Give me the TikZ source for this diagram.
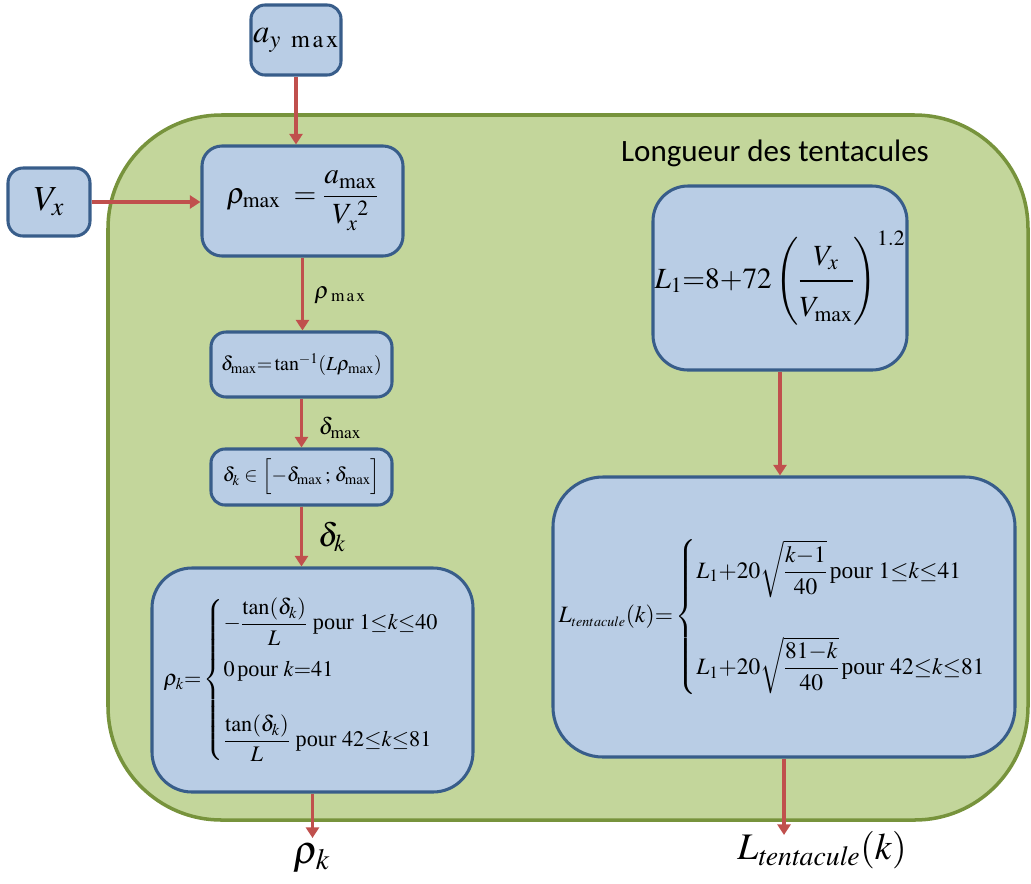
\documentclass[tikz,border=0pt]{standalone}
\usepackage{amsmath}
\usepackage[no-math]{fontspec}
\usepackage{mathptmx}
\setmainfont{Liberation Serif}
\newfontfamily\titlefont{Carlito}
\usetikzlibrary{arrows.meta}
\definecolor{greenfill}{HTML}{C3D69B}
\definecolor{greenline}{HTML}{77933C}
\definecolor{boxfill}{HTML}{B9CDE5}
\definecolor{boxline}{HTML}{385D8A}
\definecolor{arrowred}{HTML}{C0504D}
\tikzset{
  bbox/.style={draw=boxline, fill=boxfill, line width=2.6pt, inner sep=0pt, align=center},
  flow/.style={draw=arrowred, line width=2.6pt, -{Triangle[width=11pt,length=9pt]}},
  lbl/.style={inner sep=0pt}
}
\begin{document}
\begin{tikzpicture}[x=0.03cm,y=-0.03cm]
\useasboundingbox (0,0) rectangle (1031,883);
% container
\draw[draw=greenline, fill=greenfill, line width=3pt, rounded corners=3.4cm] (108,115) rectangle (1028,820);
\node[lbl, font=\titlefont\fontsize{26.5}{30}\selectfont] (title) at (775,153) {Longueur des tentacules};
% boxes
\node[bbox, rounded corners=0.42cm, minimum width=2.7cm, minimum height=2.1cm] (ay) at (296,40)
  {\fontsize{28}{30}\selectfont $a_{y\;\;\mathrm{m\,a\,x}}$};
\node[bbox, rounded corners=0.45cm, minimum width=2.46cm, minimum height=2.04cm] (vx) at (49,202)
  {\fontsize{30}{34}\selectfont $V_x$};
\node[bbox, rounded corners=0.6cm, minimum width=6.03cm, minimum height=3.3cm] (rhomax) at (302.5,201)
  {\fontsize{25}{28}\selectfont $\rho_{\max}\;=\dfrac{a_{\max}}{V_x^{\;2}}$};
\node[bbox, rounded corners=0.45cm, minimum width=5.43cm, minimum height=1.95cm] (dmax) at (301.5,364.5)
  {\fontsize{17}{21}\selectfont $\delta_{\max}{=}\tan^{-1}(L\rho_{\max})$};
\node[bbox, rounded corners=0.42cm, minimum width=5.43cm, minimum height=1.68cm] (dk) at (301.5,477)
  {\fontsize{17}{20}\selectfont $\delta_k \in \Big[{-}\delta_{\max}\,;\,\delta_{\max}\Big]$};
\node[bbox, rounded corners=1.2cm, minimum width=9.63cm, minimum height=6.72cm] (rhok) at (312.5,680)
  {\fontsize{19}{23}\selectfont $\rho_k{=}\begin{cases} {-}\dfrac{\tan(\delta_k)}{L} \text{ pour }1{\le}k{\le}40\\[1.4ex] 0\,\text{pour }k{=}41\\[2.8ex] \dfrac{\tan(\delta_k)}{L}\text{ pour }42{\le}k{\le}81\end{cases}$};
\node[bbox, rounded corners=1.05cm, minimum width=7.62cm, minimum height=5.52cm] (L1) at (780,278)
  {\fontsize{25}{29}\selectfont $L_1{=}8{+}72\left(\dfrac{V_x\rule[-10pt]{0pt}{10pt}}{\rule{0pt}{27pt}V_{\max}}\right)^{1.2}$};
\node[bbox, rounded corners=1.5cm, minimum width=13.86cm, minimum height=8.4cm] (Lt) at (784,617)
  {\fontsize{20}{24}\selectfont $L_{\scriptscriptstyle tentacule}(k){=}\begin{cases} L_1{+}20\sqrt{\dfrac{k{-}1}{40}}\,\text{pour }1{\le}k{\le}41\\[4.5ex] L_1{+}20\sqrt{\dfrac{81{-}k}{40}}\,\text{pour }42{\le}k{\le}81\end{cases}$};
% free ends
\coordinate (o1) at (312.5,838);
\coordinate (o2) at (784,835);
% arrows
\draw[flow] (ay.south) -- (ay.south |- rhomax.north);
\draw[flow] (vx.east) -- (vx.east -| rhomax.west);
\draw[flow] (rhomax.south) -- (rhomax.south |- dmax.north);
\draw[flow] (dmax.south) -- (dmax.south |- dk.north);
\draw[flow] (dk.south) -- (dk.south |- rhok.north);
\draw[flow] (rhok.south) -- (o1);
\draw[flow] (L1.south) -- (L1.south |- Lt.north);
\draw[flow] (Lt.south) -- (o2);
% labels
\node[lbl, font=\fontsize{20}{24}\selectfont] (lrm) at (340,295) {$\rho_{\;\mathrm{m\,a\,x}}$};
\node[lbl, font=\fontsize{20}{24}\selectfont] (ldm) at (340,428) {$\delta_{\max}$};
\node[lbl, font=\fontsize{28}{32}\selectfont] (ldk) at (332,537) {$\delta_k$};
\node[lbl, font=\fontsize{34}{38}\selectfont] (lrk) at (312,858) {$\rho_k$};
\node[lbl, font=\fontsize{32}{36}\selectfont] (llt) at (822,850) {$L_{\mathit{tentacule}}(k)$};
\end{tikzpicture}
\end{document}
